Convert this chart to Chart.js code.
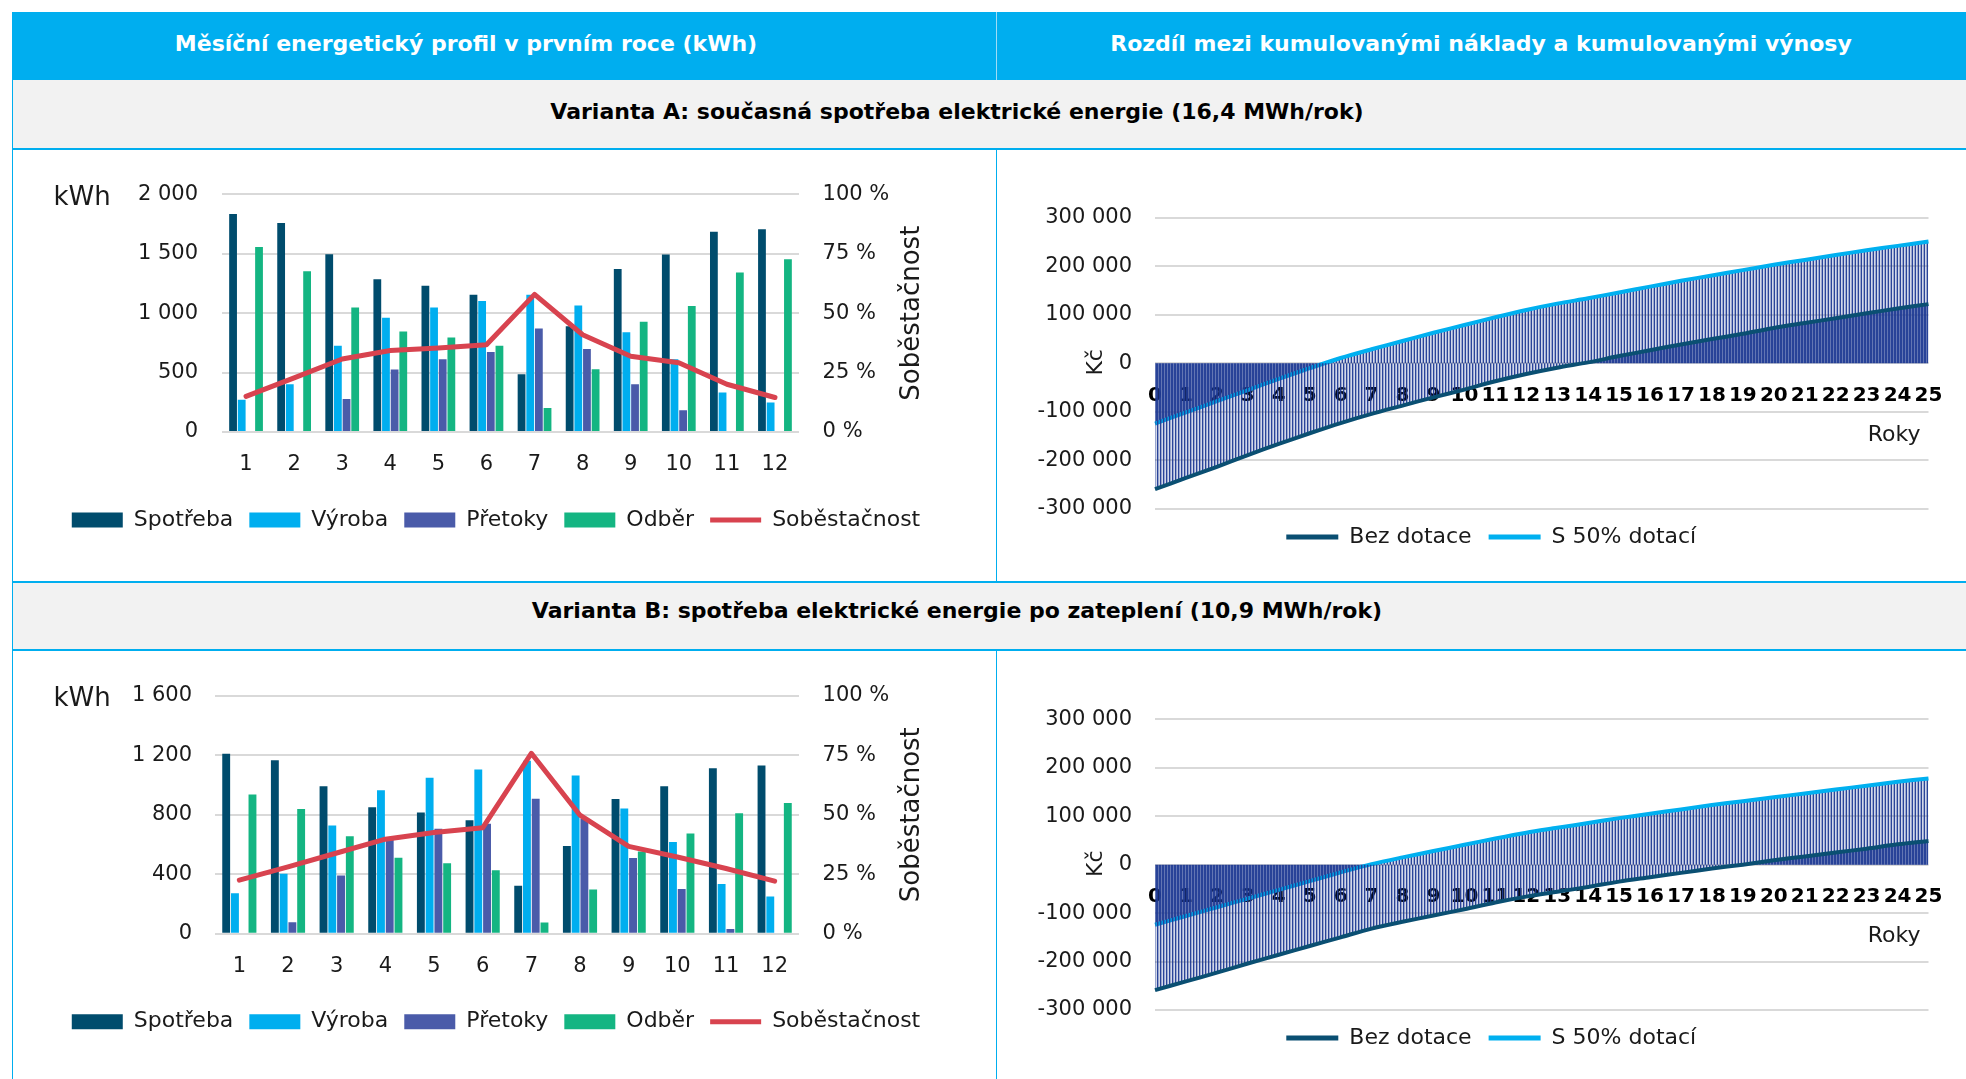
<!DOCTYPE html>
<html>
<head>
<meta charset="utf-8">
<script src="https://cdn.jsdelivr.net/npm/chart.js@4.4.1/dist/chart.umd.min.js"></script>
<style>
  body { margin: 0; width: 1966px; height: 1079px; background: #fff; position: relative; overflow: hidden; font-family: 'DejaVu Sans', sans-serif; }
  .box { position: absolute; }
  .txt { position: absolute; height: 30px; line-height: 30px; text-align: center; font-weight: 700; font-size: 22px; white-space: nowrap; }
  canvas { position: absolute; }
</style>
</head>
<body>
  <!-- table frame -->
  <div class="box" style="left:12px;top:12px;width:1954px;height:68px;background:#00AEEF"></div>
  <div class="box" style="left:996px;top:12px;width:1px;height:68px;background:#9fdcf6"></div>
  <div class="box" style="left:12px;top:80px;width:1954px;height:68px;background:#F2F2F2"></div>
  <div class="box" style="left:12px;top:148px;width:1954px;height:2px;background:#00AEEF"></div>
  <div class="box" style="left:12px;top:581px;width:1954px;height:2px;background:#00AEEF"></div>
  <div class="box" style="left:12px;top:583px;width:1954px;height:66px;background:#F2F2F2"></div>
  <div class="box" style="left:12px;top:649px;width:1954px;height:2px;background:#00AEEF"></div>
  <div class="box" style="left:12px;top:80px;width:1px;height:999px;background:#00AEEF"></div>
  <div class="box" style="left:996px;top:150px;width:1px;height:431px;background:#00AEEF"></div>
  <div class="box" style="left:996px;top:651px;width:1px;height:428px;background:#00AEEF"></div>

  <div class="txt" style="left:12px;width:908px;top:29px;color:#fff">Měsíční energetický profil v prvním roce (kWh)</div>
  <div class="txt" style="left:996px;width:970px;top:29px;color:#fff">Rozdíl mezi kumulovanými náklady a kumulovanými výnosy</div>
  <div class="txt" style="left:12px;width:1890px;top:97px;color:#000">Varianta A: současná spotřeba elektrické energie (16,4 MWh/rok)</div>
  <div class="txt" style="left:12px;width:1890px;top:596px;color:#000">Varianta B: spotřeba elektrické energie po zateplení (10,9 MWh/rok)</div>

  <canvas id="energyA" width="984" height="431" style="left:12px;top:150px"></canvas>
  <canvas id="balanceA" width="969" height="431" style="left:997px;top:150px"></canvas>
  <canvas id="energyB" width="984" height="428" style="left:12px;top:651px"></canvas>
  <canvas id="balanceB" width="969" height="428" style="left:997px;top:651px"></canvas>

<script>
// ---- data ----
const months = ['1', '2', '3', '4', '5', '6', '7', '8', '9', '10', '11', '12'];

// Varianta A (kWh, %)
const spotrebaA = [1834, 1759, 1496, 1285, 1230, 1155, 485, 890, 1371, 1493, 1684, 1706];
const vyrobaA = [271, 402, 726, 961, 1047, 1102, 1155, 1064, 839, 612, 332, 249];
const pretokyA = [0, 0, 277, 526, 612, 673, 870, 698, 402, 183, 0, 0];
const odberA = [1557, 1352, 1047, 845, 795, 726, 202, 529, 928, 1061, 1343, 1454];
const sobestacnostA = [15, 22.8, 30.7, 34.3, 35.3, 36.7, 57.9, 40.9, 31.9, 29.1, 20.1, 14.5];

// Varianta B (kWh, %)
const spotrebaB = [1210, 1166, 991, 850, 814, 763, 323, 589, 905, 991, 1113, 1131];
const vyrobaB = [272, 403, 728, 965, 1049, 1104, 1162, 1064, 841, 617, 334, 250];
const pretokyB = [0, 77, 392, 631, 706, 740, 907, 775, 509, 301, 31, 0];
const odberB = [936, 839, 655, 511, 474, 427, 75, 297, 553, 673, 810, 879];
const sobestacnostB = [22.5, 28.1, 33.9, 39.7, 42.5, 44.5, 75.8, 49.8, 36.7, 32.2, 27.4, 22.1];

// cumulative balance (Kč)
const years = ['0', '1', '2', '3', '4', '5', '6', '7', '8', '9', '10', '11', '12', '13',
  '14', '15', '16', '17', '18', '19', '20', '21', '22', '23', '24', '25'];
const bezDotaceA = [-259000, -236000, -213000, -189000, -166000, -144000, -123000, -104000, -87000,
  -70000, -54000, -37000, -22000, -9000, 2000, 15000, 27000, 39000, 50000, 61000, 73000, 83000,
  93000, 103000, 113000, 122000];
const dotace50A = [-124000, -101000, -78000, -55000, -32000, -10000, 11000, 29000, 46000, 63000,
  79000, 95000, 110000, 123000, 134000, 146000, 158000, 170000, 181000, 192000, 203000, 213000,
  223000, 233000, 242000, 251000];
const bezDotaceB = [-259000, -241000, -223000, -204000, -186000, -168000, -150000, -132000, -118000,
  -105000, -92000, -78000, -66000, -56000, -46000, -35000, -26000, -17000, -8000, 0, 9000, 17000,
  25000, 33000, 42000, 49000];
const dotace50B = [-124000, -106000, -88000, -70000, -52000, -34000, -16000, 1000, 15000, 28000,
  41000, 54000, 66000, 76000, 86000, 96000, 105000, 114000, 123000, 131000, 139000, 147000, 155000,
  163000, 171000, 178000];

// ---- setup ----
const FONT = "'DejaVu Sans', sans-serif";
Chart.defaults.font.family = FONT;
Chart.defaults.color = '#1a1a1a';
Chart.defaults.animation = false;

const GRID = '#D9D9D9';
const fmt = v => (v < 0 ? '-' : '') + String(Math.abs(v)).replace(/\B(?=(\d{3})+(?!\d))/g, ' ');

// free axis captions (kWh on top, Soběstačnost read upwards, Kč, Roky)
function textPlugin(items) {
  return {
    id: 'axisText',
    afterDraw(chart) {
      const ctx = chart.ctx;
      items.forEach(t => {
        ctx.save();
        ctx.font = t.size + 'px ' + FONT;
        ctx.fillStyle = '#1a1a1a';
        ctx.textAlign = t.align || 'center';
        ctx.textBaseline = 'middle';
        ctx.translate(t.x(chart), t.y(chart));
        if (t.rotate) ctx.rotate(-Math.PI / 2);
        ctx.fillText(t.text, 0, 0);
        ctx.restore();
      });
    }
  };
}

// the legend under the balance charts sits a bit right of the canvas centre
const legendShift = dx => ({
  id: 'legendShift',
  afterLayout(chart) {
    chart.legend.left += dx;
    chart.legend.right += dx;
  }
});

// vertical drop-line look for the filled areas
function hatch(ctx, alphas) {
  const c = document.createElement('canvas');
  c.width = alphas.length;
  c.height = 2;
  const g = c.getContext('2d');
  alphas.forEach((a, i) => {
    g.fillStyle = 'rgba(31,58,147,' + a + ')';
    g.fillRect(i, 0, 1, 2);
  });
  return ctx.createPattern(c, 'repeat');
}

function energyChart(id, spotreba, vyroba, pretoky, odber, sobestacnost, yMax, yStep, leftW, tickPad, padTop, padBottom) {
  new Chart(document.getElementById(id), {
    type: 'bar',
    data: {
      labels: months,
      datasets: [
        { label: 'Spotřeba', data: spotreba, backgroundColor: '#004C6D', order: 1, pointStyle: 'rect' },
        { label: 'Výroba', data: vyroba, backgroundColor: '#00AEEF', order: 1, pointStyle: 'rect' },
        { label: 'Přetoky', data: pretoky, backgroundColor: '#4A5BA9', order: 1, pointStyle: 'rect' },
        { label: 'Odběr', data: odber, backgroundColor: '#14B582', order: 1, pointStyle: 'rect' },
        {
          type: 'line', label: 'Soběstačnost', data: sobestacnost, yAxisID: 'y1',
          borderColor: '#D8434F', backgroundColor: '#D8434F', borderWidth: 5,
          pointRadius: 0, pointBorderWidth: 5, pointStyle: 'line', tension: 0,
          borderJoinStyle: 'round', borderCapStyle: 'round', order: 0
        }
      ]
    },
    options: {
      responsive: false,
      layout: { padding: { top: padTop, bottom: padBottom, left: 0, right: 16 } },
      datasets: { bar: { categoryPercentage: 0.72, barPercentage: 0.9 } },
      scales: {
        x: {
          grid: { display: false, drawTicks: false }, border: { display: false },
          ticks: { font: { size: 21 }, padding: 20 },
          afterFit: s => { s.height = 61; }
        },
        y: {
          min: 0, max: yMax,
          ticks: { stepSize: yStep, callback: fmt, font: { size: 21 }, padding: tickPad },
          grid: { color: GRID, lineWidth: 2, drawTicks: false }, border: { display: false },
          afterFit: s => { s.width = leftW; }
        },
        y1: {
          position: 'right', min: 0, max: 100,
          ticks: { stepSize: 25, callback: v => v + ' %', font: { size: 21 }, padding: 23.6 },
          grid: { display: false, drawTicks: false }, border: { display: false },
          afterFit: s => { s.width = 181; }
        }
      },
      plugins: {
        legend: {
          position: 'bottom',
          labels: {
            usePointStyle: true, pointStyleWidth: 51, boxHeight: 15, padding: 16,
            font: { size: 22 },
            sort: (a, b) => a.datasetIndex - b.datasetIndex
          }
        },
        tooltip: { enabled: false }
      }
    },
    plugins: [textPlugin([
      { text: 'kWh', size: 26, align: 'left', x: c => 41.5, y: c => c.chartArea.top + 4 },
      { text: 'Soběstačnost', size: 26, rotate: true,
        x: c => 900.6, y: c => (c.chartArea.top + c.chartArea.bottom) / 2 }
    ])]
  });
}

function balanceChart(id, bezDotace, dotace50, padTop, padBottom) {
  const ctx = document.getElementById(id).getContext('2d');
  new Chart(ctx, {
    type: 'line',
    data: {
      labels: years,
      datasets: [
        {
          label: 'Bez dotace', data: bezDotace, borderColor: '#0A4F72', borderWidth: 4,
          backgroundColor: hatch(ctx, [0.2, 0.95, 0.45]), fill: 'origin',
          pointRadius: 0, pointStyle: 'line', pointBorderWidth: 5, tension: 0.3
        },
        {
          label: 'S 50% dotací', data: dotace50, borderColor: '#00B0F0', borderWidth: 4,
          backgroundColor: hatch(ctx, [0.95, 0.2, 0.45]), fill: 'origin',
          pointRadius: 0, pointStyle: 'line', pointBorderWidth: 5, tension: 0.3
        }
      ]
    },
    options: {
      responsive: false,
      layout: { padding: { top: padTop, bottom: padBottom, left: 0, right: 37.5 } },
      scales: {
        x: {
          position: { y: 0 },
          grid: { display: false, drawTicks: false }, border: { display: false },
          ticks: { autoSkip: false, maxRotation: 0, font: { size: 20, weight: 'bold' }, color: '#000', padding: 20 }
        },
        y: {
          min: -300000, max: 300000,
          ticks: { stepSize: 100000, callback: fmt, font: { size: 21 }, padding: 23 },
          grid: { color: GRID, lineWidth: 2, drawTicks: false }, border: { display: false },
          afterFit: s => { s.width = 158; }
        }
      },
      plugins: {
        legend: {
          position: 'bottom',
          labels: { usePointStyle: true, pointStyleWidth: 52, boxHeight: 15, padding: 17, font: { size: 22 } }
        },
        tooltip: { enabled: false }
      }
    },
    plugins: [legendShift(28.5), textPlugin([
      { text: 'Kč', size: 22, rotate: true,
        x: c => c.chartArea.left - 59, y: c => (c.chartArea.top + c.chartArea.bottom) / 2 - 1 },
      { text: 'Roky', size: 22, align: 'right',
        x: c => c.chartArea.right - 8, y: c => c.scales.y.getPixelForValue(0) + 72 }
    ])]
  });
}

energyChart('energyA', spotrebaA, vyrobaA, pretokyA, odberA, sobestacnostA, 2000, 500, 210, 24, 44.3, 40);
energyChart('energyB', spotrebaB, vyrobaB, pretokyB, odberB, sobestacnostB, 1600, 400, 203, 23, 44.7, 36.3);
balanceChart('balanceA', bezDotaceA, dotace50A, 67.7, 23);
balanceChart('balanceB', bezDotaceB, dotace50B, 68.3, 20);
</script>
</body>
</html>
